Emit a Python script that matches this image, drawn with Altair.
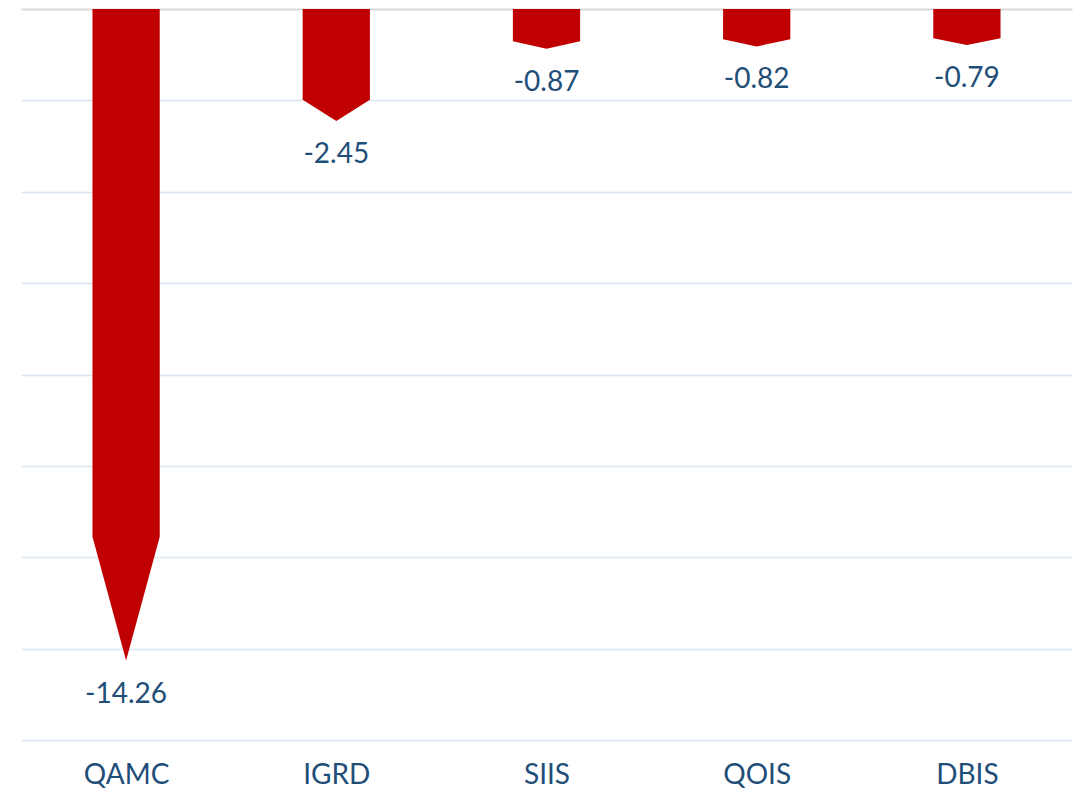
import altair as alt
import pandas as pd

categories = ["QAMC", "IGRD", "SIIS", "QOIS", "DBIS"]
values = [-14.26, -2.45, -0.87, -0.82, -0.79]
grid_values = [0, -2, -4, -6, -8, -10, -12, -14, -16]

HEAD_FRAC = 0.81   # fraction of the bar length where the arrow head begins
HALF_W = 0.16      # half bar width in category units

rows = []
for i, (c, v) in enumerate(zip(categories, values)):
    cx = i + 0.5
    b = v * HEAD_FRAC
    rows.append({"cat": c, "x": cx - HALF_W, "y": b})
    rows.append({"cat": c, "x": cx, "y": v})
    rows.append({"cat": c, "x": cx + HALF_W, "y": b})
shape_df = pd.DataFrame(rows)
label_df = pd.DataFrame({"cat": categories,
                         "x": [i + 0.5 for i in range(len(categories))],
                         "v": values,
                         "txt": ["%.2f" % v for v in values]})

TEXT_COLOR = "#1F4E79"
FONT = "Lato"

xscale = alt.Scale(domain=[0, len(categories)], nice=False, zero=False)
yscale = alt.Scale(domain=[-16, 0], nice=False)

label_expr = "[" + ",".join("'%s'" % c for c in categories) + "][floor(datum.value)]"

x_axis = alt.Axis(values=[i + 0.5 for i in range(len(categories))],
                  labelExpr=label_expr, grid=False, domain=False, ticks=False,
                  tickSize=0, labelPadding=35, labelBaseline="middle",
                  labelFont=FONT, labelFontSize=28, labelColor=TEXT_COLOR,
                  title=None)
y_axis = alt.Axis(values=grid_values, labels=False, ticks=False, domain=False,
                  grid=True, title=None,
                  gridColor={"condition": {"test": "datum.value === 0", "value": "#D9D9D9"},
                             "value": "#DCE6F2"},
                  gridWidth={"condition": {"test": "datum.value === 0", "value": 2},
                             "value": 1.3})

arrows = alt.Chart(shape_df).mark_area(color="#C00000", interpolate="linear").encode(
    x=alt.X("x:Q", scale=xscale, axis=x_axis),
    y=alt.Y("y:Q", scale=yscale, axis=y_axis),
    y2=alt.datum(0),
    detail="cat:N",
)

texts = alt.Chart(label_df).mark_text(dy=34, baseline="middle", font=FONT,
                                      fontSize=28, color=TEXT_COLOR).encode(
    x=alt.X("x:Q", scale=xscale),
    y=alt.Y("v:Q", scale=yscale),
    text=alt.Text("txt:N"),
)

chart = (arrows + texts).properties(
    width=1051, height=731,
    background="white",
    autosize=alt.AutoSizeParams(type="none"),
    padding={"left": 13, "top": 1, "right": 6, "bottom": 50},
).configure_view(stroke=None)

chart.save("out.html", embed_options={"renderer": "svg", "actions": False})
